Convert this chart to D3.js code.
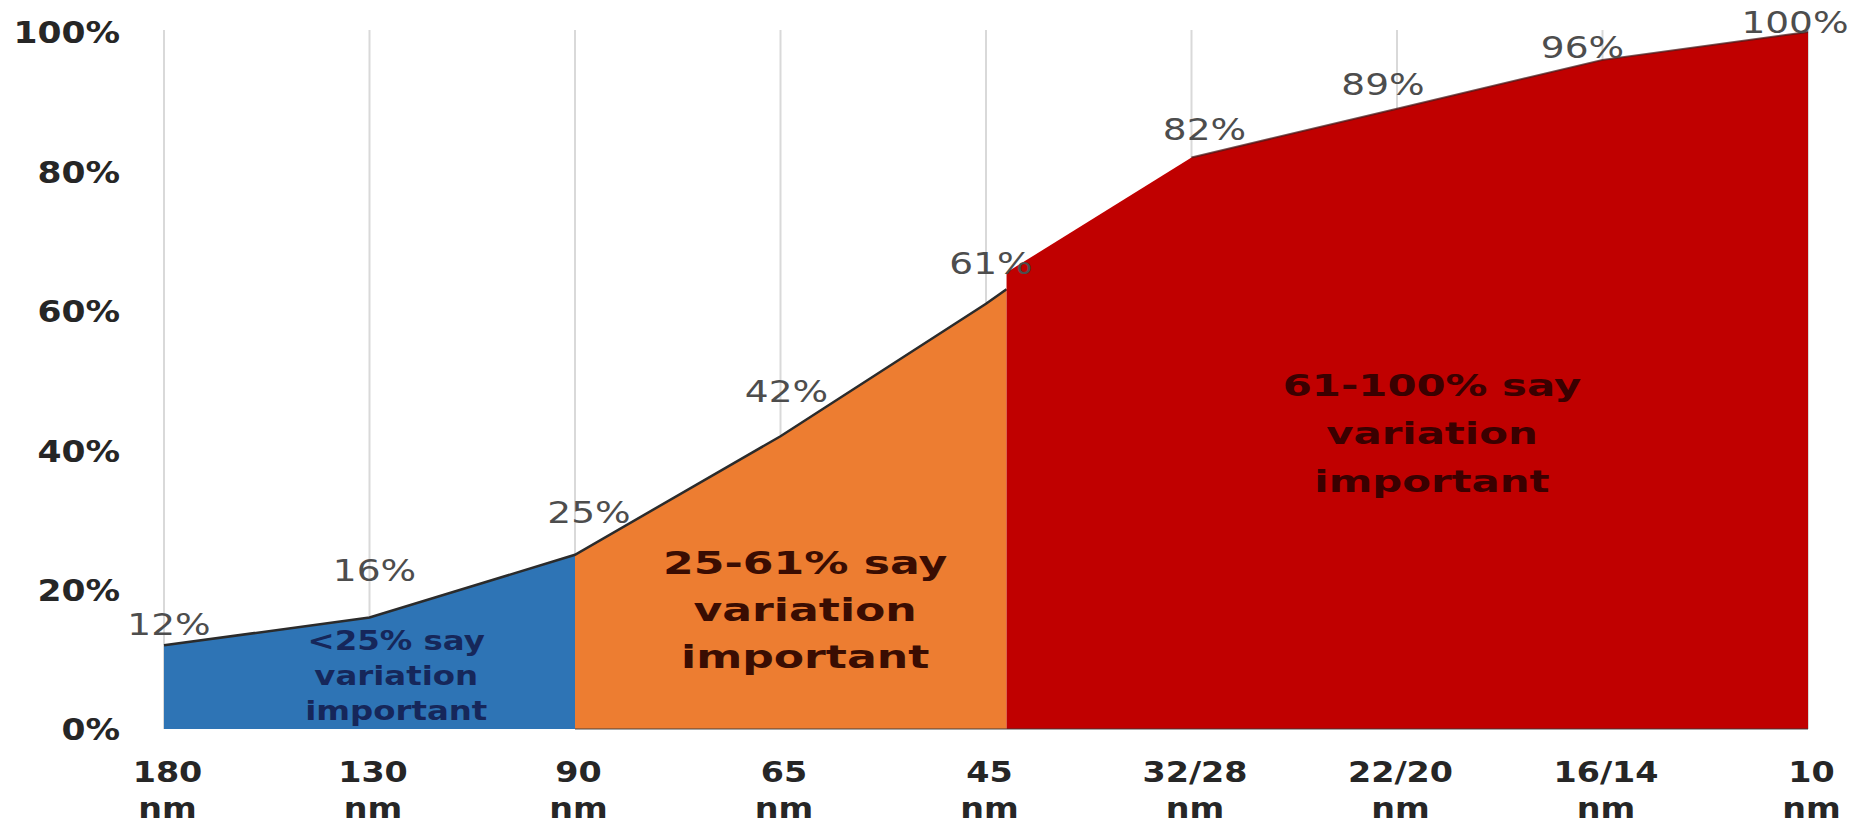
<!DOCTYPE html>
<html>
<head>
<meta charset="utf-8">
<script src="https://cdn.jsdelivr.net/npm/d3@7"></script>
<style>
  html, body { margin: 0; padding: 0; background: #ffffff; }
  svg { display: block; }
</style>
</head>
<body>
<svg id="chart" width="1858" height="828"></svg>
<script>
// ---------------- data ----------------
const categories = ["180 nm", "130 nm", "90 nm", "65 nm", "45 nm", "32/28 nm", "22/20 nm", "16/14 nm", "10 nm"];
const values = [12, 16, 25, 42, 61, 82, 89, 96, 100];
const yTicks = [0, 20, 40, 60, 80, 100];
// colour bands along the x axis (in category-index units)
const bandStart = [0, 2, 4.1];
const bandEnd = [2, 4.1, 8];
const redEdgeValue = 65.5;           // top of the red band's left edge (%)
const bandLines = [
  ["<25% say", "variation", "important"],
  ["25-61% say", "variation", "important"],
  ["61-100% say", "variation", "important"]
];

// ---------------- layout / style ----------------
const W = 1858, H = 828;
const bandColors = ["#2e74b5", "#ed7d31", "#c00000"];
const bandTextColors = ["#16275a", "#3a0d02", "#3a0000"];
const bandTextSize = [27, 32, 31];
const bandTextStretch = [1.2, 1.38, 1.35];
const bandTextLineGap = [35, 47, 48];
const bandTextAnchor = [[1.13, 7.7], [3.12, 17.1], [6.17, 42.5]]; // [index, value] of middle line
const labelNudge = [[5, -21], [5, -47], [14, -43], [6, -45], [5, -41], [13, -28], [-14, -24], [-20, -13], [-13, -10]];

const svg = d3.select("#chart");
const x = d3.scaleLinear().domain([0, categories.length - 1]).range([164, 1808]);
const y = d3.scaleLinear().domain([0, 100]).range([729, 32]);

const valueAt = t => {
  const i = Math.min(Math.floor(t), values.length - 2);
  const f = t - i;
  return values[i] + (values[i + 1] - values[i]) * f;
};

// vertical gridlines
svg.append("g").selectAll("line")
  .data(categories)
  .join("line")
  .attr("x1", (d, i) => x(i)).attr("x2", (d, i) => x(i))
  .attr("y1", y(100) - 2).attr("y2", y(0))
  .attr("stroke", "#d9d9d9").attr("stroke-width", 2);

// bands as areas
const area = d3.area().x(d => x(d.t)).y0(y(0)).y1(d => y(d.v)).curve(d3.curveLinear);
const bandPoints = b => {
  const pts = [];
  const s = bandStart[b], e = bandEnd[b];
  pts.push({ t: s, v: b === 2 ? redEdgeValue : valueAt(s) });
  for (let i = Math.ceil(s + 1e-9); i < e; i++) pts.push({ t: i, v: values[i] });
  pts.push({ t: e, v: valueAt(e) });
  return pts;
};

// blue + orange
[0, 1].forEach(b => {
  svg.append("path").attr("d", area(bandPoints(b))).attr("fill", bandColors[b]);
});

// outline along the top of blue + orange
const line = d3.line().x(d => x(d.t)).y(d => y(d.v));
const leftPts = [];
for (let i = 0; i <= 4; i++) leftPts.push({ t: i, v: values[i] });
leftPts.push({ t: bandEnd[1], v: valueAt(bandEnd[1]) });
svg.append("path").attr("d", line(leftPts))
  .attr("fill", "none").attr("stroke", "#2b2b2b").attr("stroke-width", 2.5);

// red band
svg.append("path").attr("d", area(bandPoints(2))).attr("fill", bandColors[2]);
const rightPts = [];
for (let i = 5; i <= 8; i++) rightPts.push({ t: i, v: values[i] });
svg.append("path").attr("d", line(rightPts))
  .attr("fill", "none").attr("stroke", "#4a1a1a").attr("stroke-width", 2).attr("opacity", 0.75);

// baseline shading
svg.append("line")
  .attr("x1", x(bandStart[1])).attr("x2", x(8))
  .attr("y1", y(0)).attr("y2", y(0))
  .attr("stroke", "#3a3a3a").attr("stroke-width", 2).attr("opacity", 0.45);

// y axis
const yAxis = svg.append("g")
  .attr("transform", `translate(${x(0)},0)`)
  .call(d3.axisLeft(y).tickValues(yTicks).tickFormat(d => d + "%").tickSize(0));
yAxis.select(".domain").remove();
yAxis.selectAll("text")
  .attr("x", 0).attr("dy", "0.36em")
  .attr("transform", "translate(-44,0) scale(1.15,1)")
  .attr("text-anchor", "end")
  .attr("font-family", "DejaVu Sans")
  .attr("font-weight", "bold")
  .attr("font-size", 30)
  .attr("fill", "#262626");

// x axis (two-line labels)
const xAxis = svg.append("g")
  .attr("transform", `translate(0,${y(0)})`)
  .call(d3.axisBottom(x).tickValues(d3.range(categories.length)).tickFormat(i => categories[i]).tickSize(0));
xAxis.select(".domain").remove();
xAxis.selectAll("text").each(function (i) {
  const parts = categories[i].split(" ");
  const t = d3.select(this)
    .text(null)
    .attr("y", 0).attr("dy", null)
    .attr("transform", "translate(3,0) scale(1.15,1)")
    .attr("text-anchor", "middle")
    .attr("font-family", "DejaVu Sans")
    .attr("font-weight", "bold")
    .attr("font-size", 29)
    .attr("fill", "#262626");
  t.append("tspan").attr("x", 0).attr("y", 53).text(parts[0]);
  t.append("tspan").attr("x", 0).attr("y", 89).text(parts[1]);
});

// data labels
svg.append("g").selectAll("text")
  .data(values)
  .join("text")
  .attr("transform", (d, i) => `translate(${x(i) + labelNudge[i][0]},${y(d) + labelNudge[i][1]}) scale(1.25,1)`)
  .attr("dy", "0.36em")
  .attr("text-anchor", "middle")
  .attr("font-family", "DejaVu Sans")
  .attr("font-size", 30)
  .attr("fill", "#4d4d4d")
  .text(d => d + "%");

// band annotations
bandLines.forEach((lines, b) => {
  const cx = x(bandTextAnchor[b][0]);
  const cy = y(bandTextAnchor[b][1]);
  const g = svg.append("g");
  lines.forEach((s, k) => {
    g.append("text")
      .attr("transform", `translate(${cx},${cy + (k - 1) * bandTextLineGap[b]}) scale(${bandTextStretch[b]},1)`)
      .attr("dy", "0.36em")
      .attr("text-anchor", "middle")
      .attr("font-family", "DejaVu Sans")
      .attr("font-weight", "bold")
      .attr("font-size", bandTextSize[b])
      .attr("fill", bandTextColors[b])
      .text(s);
  });
});
</script>
</body>
</html>
